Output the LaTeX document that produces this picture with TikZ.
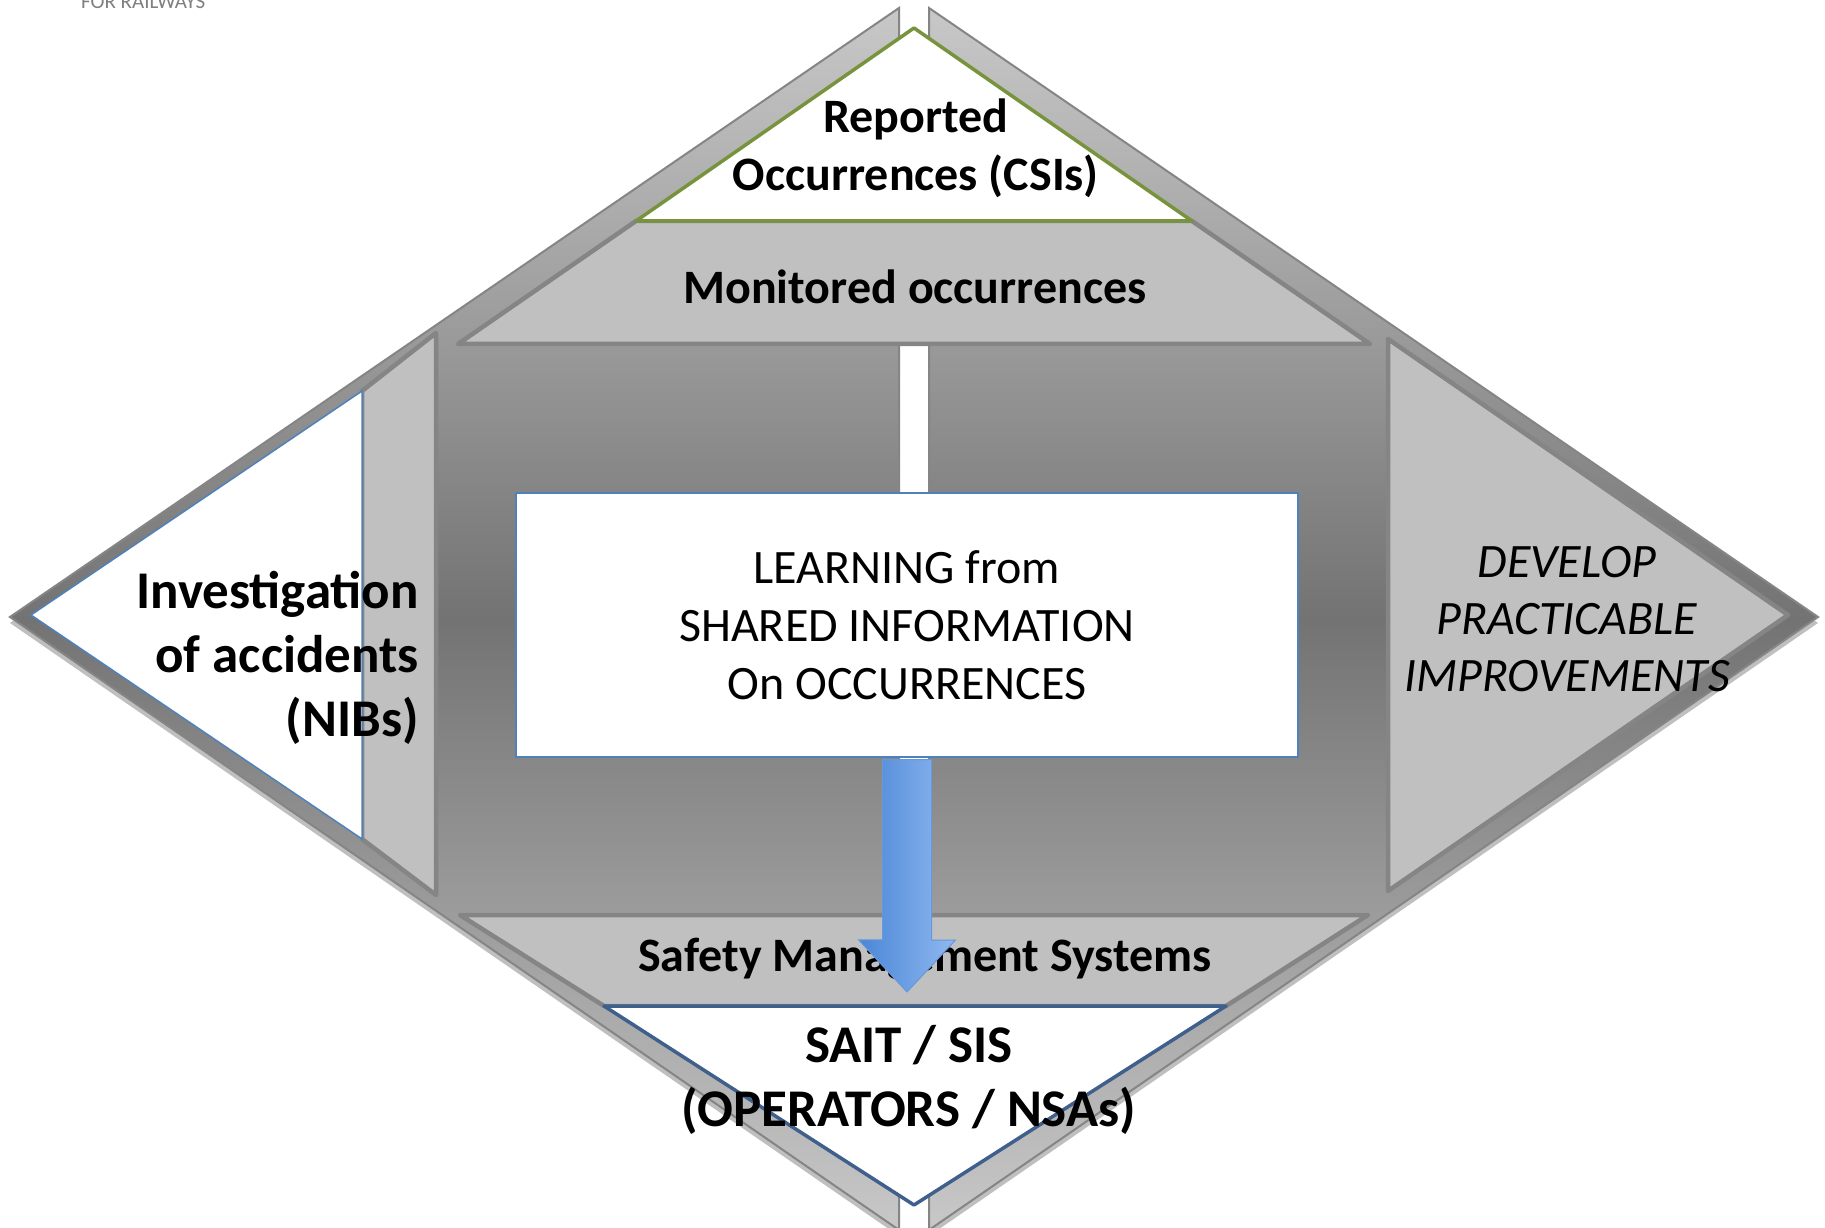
\documentclass[tikz,border=0pt]{standalone}
\usepackage{fontspec}
\setmainfont{Carlito}
\usepackage{tikz}
\usetikzlibrary{positioning}
\usetikzlibrary{calc}

\definecolor{bandgray}{HTML}{C0C0C0}
\definecolor{edgegray}{HTML}{858585}
\definecolor{bglight}{HTML}{C8C8C8}
\definecolor{bgdark}{HTML}{737373}
\definecolor{csigreen}{HTML}{77933C}
\definecolor{nibblue}{HTML}{4F81BD}
\definecolor{saitblue}{HTML}{3F5F8C}
\definecolor{arrowdark}{HTML}{4A86D6}
\definecolor{arrowlight}{HTML}{90B8F0}

\tikzstyle{half} = [draw=edgegray, line width=2pt, top color=bglight,
    bottom color=bglight, middle color=bgdark]
\tikzstyle{halfshadow} = [fill=gray!50]
\tikzstyle{piece} = [fill=bandgray, draw=edgegray, line width=4.5pt, line join=round]
\tikzstyle{csitri} = [fill=white, draw=csigreen, line width=3.5pt, line join=round]
\tikzstyle{nibtri} = [fill=white, draw=nibblue, line width=1.5pt]
\tikzstyle{saittri} = [fill=white, draw=saitblue, line width=3.5pt, line join=round]
\tikzstyle{learnbox} = [rectangle, fill=white, draw=nibblue, line width=1.5pt,
    minimum width=782pt, minimum height=264pt, align=center,
    font=\fontsize{48}{58}\selectfont]
\tikzstyle{boldtext} = [font=\fontsize{48}{58}\selectfont\bfseries, align=center, inner sep=0pt]
\tikzstyle{bigbold} = [font=\fontsize{53}{64}\selectfont\bfseries, align=center, inner sep=0pt]
\tikzstyle{slanttext} = [font=\fontsize{48}{57}\selectfont\itshape, align=center, inner sep=0pt]
\tikzstyle{flowarrow} = [left color=arrowdark, right color=arrowlight, draw=arrowdark!85, line width=1pt]

\begin{document}
\begin{tikzpicture}[x=1pt, y=1pt]
    \useasboundingbox (0,0) rectangle (1825,1227);
    \clip (0,0) rectangle (1825,1227);
    \fill[white] (0,0) rectangle (1825,1227);
    % background diamond, two halves
    \path[halfshadow, yshift=-6pt] (10,610) -- (899,1219) -- (899,-3) -- cycle;
    \path[halfshadow, yshift=-6pt] (929,1219) -- (1818,610) -- (929,-3) -- cycle;
    \path[half] (10,610) -- (899,1219) -- (899,-3) -- cycle;
    \path[half] (929,1219) -- (1818,610) -- (929,-3) -- cycle;
    % outer pieces
    \path[piece] (458,883) -- (1370,883) -- (1192,1006) -- (636,1006) -- cycle;
    \path[csitri] (636,1006) -- (1192,1006) -- (914,1199) -- cycle;
    \path[piece] (436,894) -- (436,332) -- (362,388) -- (362,836) -- cycle;
    \path[nibtri] (362,836) -- (362,388) -- (31,612) -- cycle;
    \path[piece] (1388,888) -- (1388,336) -- (1788,612) -- cycle;
    \path[piece] (460,312) -- (1368,312) -- (1226,221) -- (604,221) -- cycle;
    \path[saittri] (604,221) -- (1226,221) -- (914,22) -- cycle;
    % Place nodes
    \node[anchor=base west, inner sep=0pt, text=gray, font=\fontsize{21}{25}\selectfont]
        (brand) at (81,1218) {FOR RAILWAYS};
    \node[boldtext] (csi) at (916,1079) {Reported\\Occurrences (CSIs)};
    \node[boldtext] (monitored) at (915,940) {Monitored occurrences};
    \node[bigbold, align=right, anchor=east] (nib) at (419,569) {Investigation\\of accidents\\(NIBs)};
    \node[slanttext] (improve) at (1567,608) {DEVELOP\\PRACTICABLE\\IMPROVEMENTS};
    \node[learnbox] (learn) at (907,602) {LEARNING from\\SHARED INFORMATION\\On OCCURRENCES};
    \node[boldtext] (sms) at (925,268) {Safety Management Systems};
    \node[bigbold] (sait) at (909,147) {SAIT / SIS\\(OPERATORS / NSAs)};
    % arrows
    \coordinate (smstip) at (907,235);
    \path[flowarrow] ($(learn.south)+(-24.5,-2)$) -- ++(0,-180) -- ++(-24,0) -- (smstip)
        -- ++(48.5,52) -- ++(-24,0) -- ($(learn.south)+(24.5,-2)$) -- cycle;
\end{tikzpicture}
\end{document}
